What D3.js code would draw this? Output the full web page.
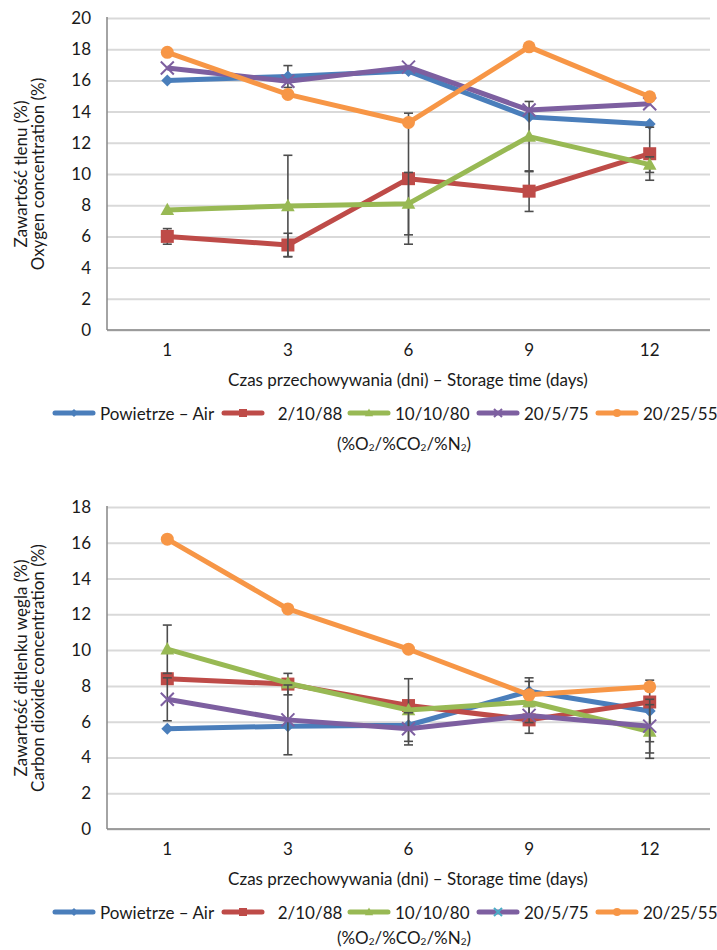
<html>
<head>
<meta charset="utf-8">
<script src="https://d3js.org/d3.v7.min.js"></script>
<style>
  body { margin: 0; background: #fff; }
  text { font-family: Lato, "Open Sans", sans-serif; fill: #1a1a1a; }
</style>
</head>
<body>
<div id="chart"></div>
<script>
// categories (storage days)
var days = ["1", "3", "6", "9", "12"];
var seriesNames = ["Powietrze \u2013 Air", "\u00a0 2/10/88", "10/10/80", "20/5/75", "20/25/55"];
var seriesColors = ["#4a7ebb", "#be4b48", "#98b954", "#7d5fa0", "#f79646"];
var seriesMarkers = ["diamond", "square", "triangle", "cross", "circle"];

// oxygen concentration (%)
var o2Air     = [16.0, 16.25, 16.6, 13.65, 13.2];
var o2_2_10   = [6.0, 5.45, 9.7, 8.9, 11.3];
var o2_10_10  = [7.7, 7.95, 8.1, 12.4, 10.6];
var o2_20_5   = [16.8, 15.95, 16.85, 14.1, 14.5];
var o2_20_25  = [17.8, 15.1, 13.3, 18.15, 14.95];
// error bars (+/-)
var o2AirErr    = [0, 0.7, 0, 0, 0];
var o2_2_10Err  = [0.5, 0.75, 4.2, 1.3, 1.7];
var o2_10_10Err = [0, 3.25, 2.0, 2.25, 0.5];
var o2_20_5Err  = [0, 0, 0, 0, 0];
var o2_20_25Err = [0, 0, 0, 0, 0];
var o2Ticks = [0, 2, 4, 6, 8, 10, 12, 14, 16, 18, 20];

// carbon dioxide concentration (%)
var co2Air    = [5.6, 5.75, 5.8, 7.7, 6.6];
var co2_2_10  = [8.4, 8.1, 6.9, 6.1, 7.1];
var co2_10_10 = [10.05, 8.15, 6.65, 7.1, 5.45];
var co2_20_5  = [7.25, 6.1, 5.6, 6.35, 5.75];
var co2_20_25 = [16.2, 12.3, 10.05, 7.5, 7.95];
var co2AirErr    = [0, 0, 0, 0.75, 1.72];
var co2_2_10Err  = [0, 0.6, 0, 0.75, 0];
var co2_10_10Err = [1.35, 0, 1.75, 1.15, 1.5];
var co2_20_5Err  = [1.2, 1.95, 0.9, 0, 1.5];
var co2_20_25Err = [0, 0, 0, 0, 0];
var co2Ticks = [0, 2, 4, 6, 8, 10, 12, 14, 16, 18];

var W = 717, H = 950;
var FS = "17px";
var svg = d3.select("#chart").append("svg")
    .attr("width", W).attr("height", H);

function markerPath(type, s) {
  var h = s / 2;
  if (type == "diamond") return "M0," + (-h) + "L" + h + ",0L0," + h + "L" + (-h) + ",0Z";
  if (type == "square") return "M" + (-h) + "," + (-h) + "h" + s + "v" + s + "h" + (-s) + "Z";
  if (type == "triangle") return "M0," + (-h * 1.1) + "L" + (h * 1.05) + "," + (h * 0.8) + "L" + (-h * 1.05) + "," + (h * 0.8) + "Z";
  if (type == "cross") return "M" + (-h) + "," + (-h) + "L" + h + "," + h + "M" + h + "," + (-h) + "L" + (-h) + "," + h;
  return null;
}

function drawMarker(g, type, color, size) {
  if (type == "circle") {
    g.append("circle").attr("r", size / 2).attr("fill", color);
  } else if (type == "cross") {
    g.append("path").attr("d", markerPath(type, size))
      .attr("stroke", color).attr("stroke-width", 2).attr("fill", "none");
  } else {
    g.append("path").attr("d", markerPath(type, size)).attr("fill", color);
  }
}

function drawChart(cfg) {
  var left = 107, right = 710;
  var x = d3.scaleBand().domain(days).range([left, right]);
  var cx = function(d) { return x(d) + x.bandwidth() / 2; };
  var y = d3.scaleLinear().domain([0, cfg.yMax]).range([cfg.bottom, cfg.top]);

  // gridlines
  svg.append("g")
    .attr("transform", "translate(" + left + ",0)")
    .call(d3.axisLeft(y).tickValues(cfg.ticks).tickSize(-(right - left)).tickFormat(""))
    .call(function(g) { g.select(".domain").remove(); })
    .selectAll("line").attr("stroke", "#d9d9d9").attr("stroke-width", 2);

  // y tick labels
  var ya = svg.append("g")
    .attr("transform", "translate(" + left + ",0)")
    .call(d3.axisLeft(y).tickValues(cfg.ticks).tickSize(0).tickPadding(16));
  ya.select(".domain").remove();
  ya.selectAll("text").style("font-size", FS).attr("fill", "#1a1a1a");

  // x tick labels
  var xa = svg.append("g")
    .attr("transform", "translate(0," + cfg.bottom + ")")
    .call(d3.axisBottom(x).tickSize(0).tickPadding(14));
  xa.select(".domain").remove();
  xa.selectAll("text").style("font-size", FS).attr("fill", "#1a1a1a");

  // axis lines
  svg.append("line").attr("x1", left).attr("x2", left).attr("y1", cfg.top - 1).attr("y2", cfg.bottom)
    .attr("stroke", "#868686").attr("stroke-width", 1.5);
  svg.append("line").attr("x1", left).attr("x2", right).attr("y1", cfg.bottom).attr("y2", cfg.bottom)
    .attr("stroke", "#868686").attr("stroke-width", 1.5);

  // series
  var line = d3.line().x(function(d) { return cx(d.day); }).y(function(d) { return y(d.v); });
  cfg.series.forEach(function(vals, i) {
    var pts = days.map(function(d, j) { return { day: d, v: vals[j], e: cfg.errors[i][j] }; });
    var g = svg.append("g");
    // error bars
    pts.filter(function(p) { return p.e > 0; }).forEach(function(p) {
      var eg = g.append("g").attr("stroke", "#4d4d4d").attr("stroke-width", 1.6);
      eg.append("line").attr("x1", cx(p.day)).attr("x2", cx(p.day))
        .attr("y1", y(p.v - p.e)).attr("y2", y(p.v + p.e));
      [p.v - p.e, p.v + p.e].forEach(function(v) {
        eg.append("line").attr("x1", cx(p.day) - 4.5).attr("x2", cx(p.day) + 4.5)
          .attr("y1", y(v)).attr("y2", y(v));
      });
    });
    g.append("path").datum(pts).attr("d", line)
      .attr("fill", "none").attr("stroke", seriesColors[i]).attr("stroke-width", 5)
      .attr("stroke-linejoin", "round");
    pts.forEach(function(p) {
      var mg = g.append("g").attr("transform", "translate(" + cx(p.day) + "," + y(p.v) + ")");
      var sz = seriesMarkers[i] == "diamond" ? 12 : 13;
      drawMarker(mg, seriesMarkers[i], seriesColors[i], sz);
    });
  });

  // y axis titles
  var ymid = (cfg.top + cfg.bottom) / 2;
  cfg.yTitle.forEach(function(t, k) {
    svg.append("text")
      .attr("transform", "translate(" + (20 + k * 17) + "," + ymid + ") rotate(-90)")
      .attr("text-anchor", "middle").attr("dominant-baseline", "central")
      .style("font-size", FS).text(t);
  });

  // x axis title
  svg.append("text").attr("x", 408).attr("y", cfg.bottom + 49)
    .attr("text-anchor", "middle").attr("dominant-baseline", "central")
    .style("font-size", FS).text("Czas przechowywania (dni) \u2013 Storage time (days)");

  // legend
  var legX = [53, 222, 348, 477, 596];
  var ly = cfg.bottom + 83;
  seriesNames.forEach(function(n, i) {
    var lg = svg.append("g").attr("transform", "translate(" + legX[i] + "," + ly + ")");
    lg.append("line").attr("x1", 2).attr("x2", 40).attr("stroke", seriesColors[i])
      .attr("stroke-width", 5).attr("stroke-linecap", "round");
    var mg = lg.append("g").attr("transform", "translate(21,0)");
    var mc = (cfg.legendMarkerColors && cfg.legendMarkerColors[i]) || seriesColors[i];
    drawMarker(mg, seriesMarkers[i], mc, 8);
    lg.append("text").attr("x", 47).attr("y", 0).attr("dominant-baseline", "central")
      .style("font-size", FS).text(n);
  });

  // gas composition note
  var nt = svg.append("text").attr("x", 404).attr("y", cfg.noteY)
    .attr("text-anchor", "middle").attr("dominant-baseline", "central")
    .style("font-size", FS);
  [["(%O", 0], ["2", 1], ["/%CO", 0], ["2", 1], ["/%N", 0], ["2", 1], [")", 0]].forEach(function(s) {
    var ts = nt.append("tspan").text(s[0]);
    if (s[1]) ts.style("font-size", "10px").attr("dy", 4);
    else ts.attr("dy", s[0] == "(%O" ? 0 : -4);
  });
}

drawChart({
  top: 18, bottom: 330, yMax: 20, ticks: o2Ticks, noteY: 443,
  series: [o2Air, o2_2_10, o2_10_10, o2_20_5, o2_20_25],
  errors: [o2AirErr, o2_2_10Err, o2_10_10Err, o2_20_5Err, o2_20_25Err],
  yTitle: ["Zawarto\u015b\u0107 tlenu (%)", "Oxygen concentration (%)"]
});

drawChart({
  top: 507, bottom: 829, yMax: 18, ticks: co2Ticks, noteY: 937,
  series: [co2Air, co2_2_10, co2_10_10, co2_20_5, co2_20_25],
  errors: [co2AirErr, co2_2_10Err, co2_10_10Err, co2_20_5Err, co2_20_25Err],
  yTitle: ["Zawarto\u015b\u0107 ditlenku w\u0119gla (%)", "Carbon dioxide concentration (%)"],
  legendMarkerColors: [null, null, null, "#4bacc6", null]
});
</script>
</body>
</html>
